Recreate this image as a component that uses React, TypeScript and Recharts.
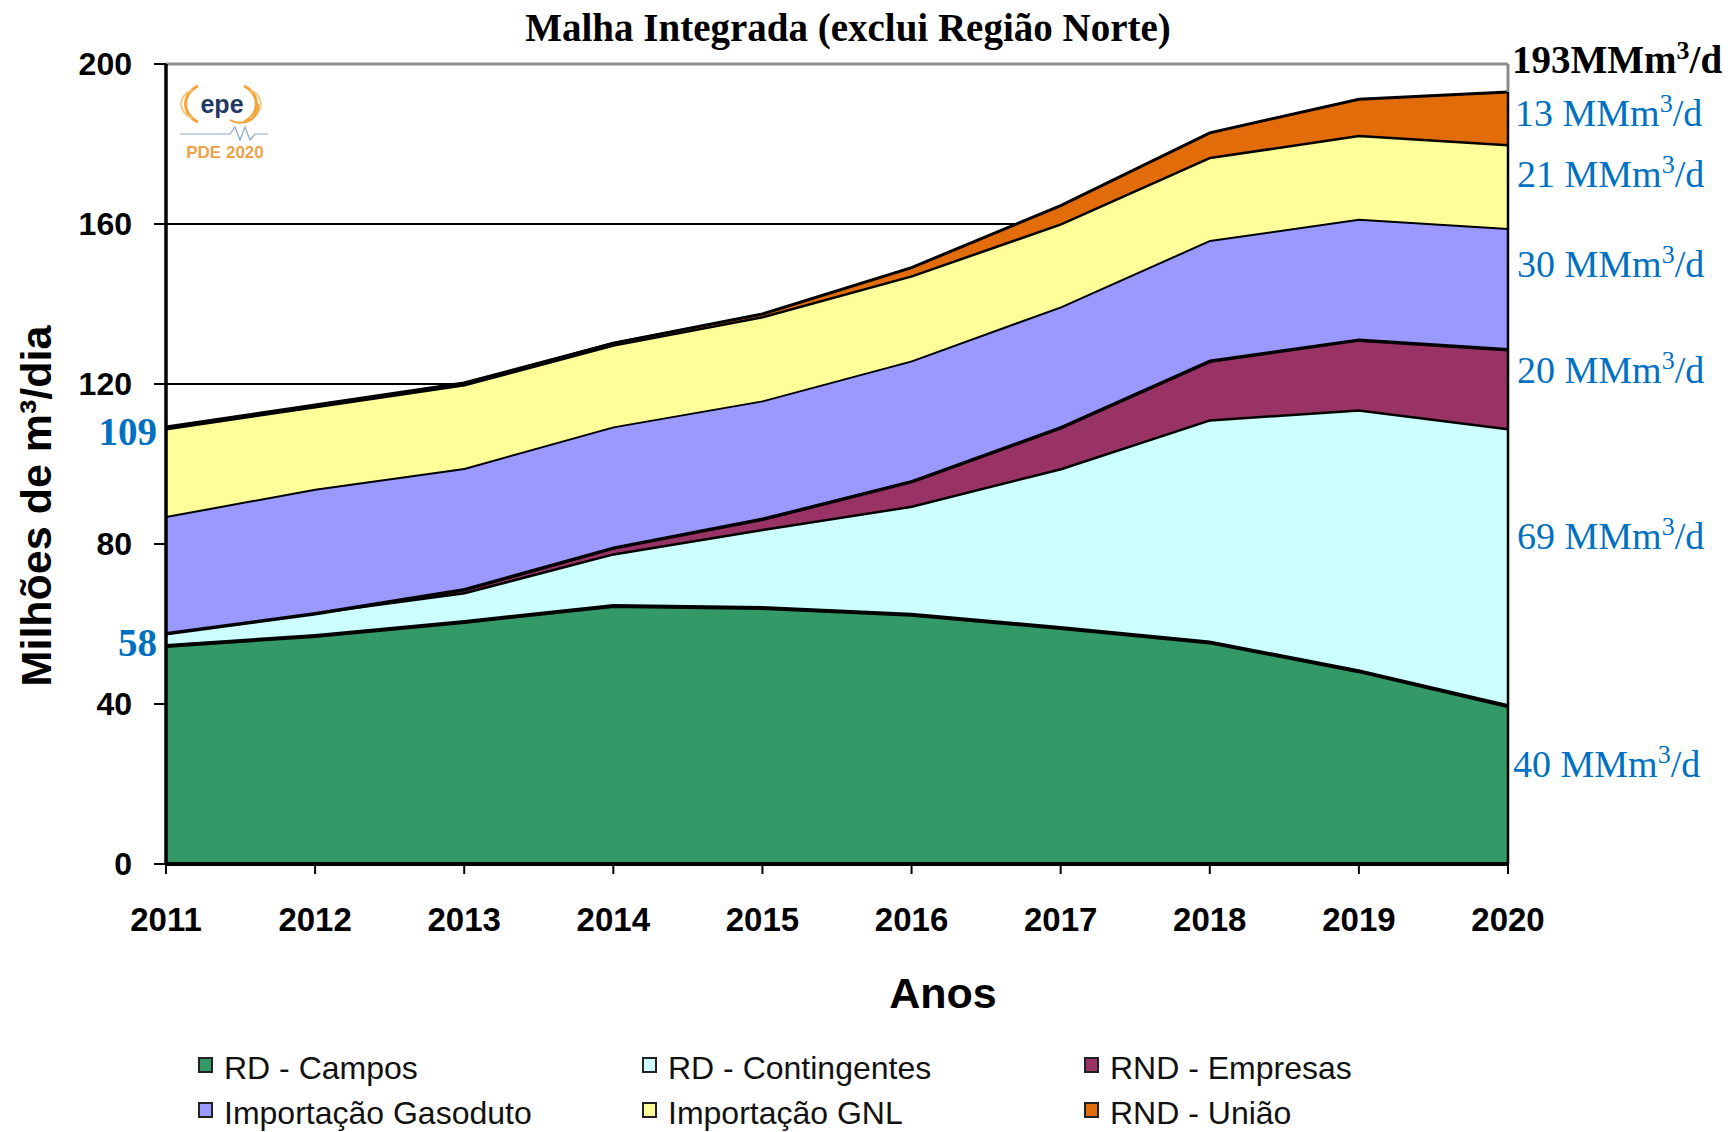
import React from 'react';
import { AreaChart, Area, XAxis, YAxis, CartesianGrid, ReferenceLine } from 'recharts';

const years = ['2011', '2012', '2013', '2014', '2015', '2016', '2017', '2018', '2019', '2020'];
const rdCampos = [55, 57.5, 61, 65, 64.5, 62.8, 59.5, 55.9, 48.7, 40];
const rdContingentes = [3, 5.5, 7, 12.7, 19.3, 26.8, 39.5, 55.3, 65, 69];
const rndEmpresas = [0, 0, 1, 1.7, 2.8, 6.4, 10.5, 14.9, 17.7, 20];
const importGasoduto = [29, 30.8, 30, 30, 29.3, 29.9, 29.9, 29.9, 29.9, 30];
const importGNL = [22, 20.7, 21, 20.5, 21.1, 21.3, 20.8, 20.8, 21, 21];
const rndUniao = [0, 0, 0, 0.3, 0.5, 1.9, 4.4, 6, 8.9, 13];
const yTicks = [0, 40, 80, 120, 160, 200];

const seriesNames = ['RD - Campos', 'RD - Contingentes', 'RND - Empresas', 'Importação Gasoduto', 'Importação GNL', 'RND - União'];
const seriesKeys = ['campos', 'contingentes', 'empresas', 'gasoduto', 'gnl', 'uniao'];
const seriesColors = ['#339966', '#CCFFFF', '#993366', '#9999FF', '#FFFF99', '#E36C0A'];
const seriesStroke = [8, 5, 7, 4, 5, 3];

const rightLabels = ['13', '21', '30', '20', '69', '40'];
const totalLabel = '193';
const leftLabels = ['109', '58'];

const data = years.map((y, i) => ({
  year: y,
  campos: rdCampos[i],
  contingentes: rdContingentes[i],
  empresas: rndEmpresas[i],
  gasoduto: importGasoduto[i],
  gnl: importGNL[i],
  uniao: rndUniao[i],
}));

const serif = '"Liberation Serif", "Times New Roman", serif';
const sans = '"Liberation Sans", Arial, sans-serif';
const blue = '#0070C0';

const Unit = ({ x, y, num, bold, color }: { x: number; y: number; num: string; bold?: boolean; color: string }) => (
  <text x={x} y={y} fontFamily={serif} fontSize={bold ? 39 : 38} fontWeight={bold ? 'bold' : 'normal'} fill={color}>
    {num}{bold ? '' : ' '}MMm
    <tspan fontSize={26} dy={-14}>3</tspan>
    <tspan dy={14}>/d</tspan>
  </text>
);

export default function App() {
  const rightY = [126, 187, 277, 383, 549, 777];
  const rightX = [1515, 1517, 1517, 1517, 1517, 1513];
  const legendCols = [199, 643, 1085];
  const legendRows = [1079, 1124];
  return (
    <div style={{ position: 'relative', width: 1733, height: 1132, background: '#fff' }}>
      <style>{'body{margin:0;background:#fff}'}</style>
      <AreaChart width={1733} height={1132} data={data} margin={{ top: 64, right: 225, bottom: 208, left: 0 }}>
        <CartesianGrid vertical={false} stroke="#000" strokeWidth={2} />
        {seriesKeys.map((k, i) => (
          <Area
            key={k}
            type="linear"
            dataKey={k}
            stackId="1"
            fill={seriesColors[i]}
            fillOpacity={1}
            stroke="#000"
            strokeWidth={seriesStroke[i]}
            isAnimationActive={false}
            dot={false}
            activeDot={false}
          />
        ))}
        <ReferenceLine y={200} stroke="#8c8c8c" strokeWidth={3} />
        <ReferenceLine segment={[{ x: '2020', y: 193 }, { x: '2020', y: 200 }]} stroke="#8c8c8c" strokeWidth={3} />
        <ReferenceLine segment={[{ x: '2020', y: 0 }, { x: '2020', y: 193 }]} stroke="#000" strokeWidth={2.5} />
        <XAxis
          dataKey="year"
          interval={0}
          height={60}
          tickSize={10}
          tickMargin={34}
          axisLine={{ stroke: '#000', strokeWidth: 4 }}
          tickLine={{ stroke: '#000', strokeWidth: 2 }}
          tick={{ fontSize: 33, fontWeight: 'bold', fill: '#000', fontFamily: sans }}
        />
        <YAxis
          width={166}
          domain={[0, 200]}
          ticks={yTicks}
          interval={0}
          tickSize={12}
          tickMargin={22}
          axisLine={{ stroke: '#000', strokeWidth: 3.5 }}
          tickLine={{ stroke: '#000', strokeWidth: 2 }}
          tick={{ fontSize: 32, fontWeight: 'bold', fill: '#000', fontFamily: sans }}
        />
      </AreaChart>
      <svg width={1733} height={1132} style={{ position: 'absolute', left: 0, top: 0, pointerEvents: 'none' }}>
        <text x={848} y={41} textAnchor="middle" fontFamily={serif} fontWeight="bold" fontSize={39} fill="#000">
          Malha Integrada (exclui Região Norte)
        </text>
        <text transform="translate(51,506) rotate(-90)" textAnchor="middle" fontFamily={sans} fontWeight="bold" fontSize={43} fill="#000">
          Milhões de m³/dia
        </text>
        <text x={943} y={1008} textAnchor="middle" fontFamily={sans} fontWeight="bold" fontSize={43} fill="#000">
          Anos
        </text>
        <Unit x={1512} y={73} num={totalLabel} bold color="#000" />
        {rightLabels.map((n, i) => (
          <Unit key={i} x={rightX[i]} y={rightY[i]} num={n} color={blue} />
        ))}
        <text x={157} y={445} textAnchor="end" fontFamily={serif} fontWeight="bold" fontSize={39} fill={blue}>{leftLabels[0]}</text>
        <text x={157} y={656} textAnchor="end" fontFamily={serif} fontWeight="bold" fontSize={39} fill={blue}>{leftLabels[1]}</text>
        {/* logo */}
        <g>
          <path d="M198 86 A22 20 0 0 0 198 122" fill="none" stroke="#F2A33A" strokeWidth={3} />
          <path d="M192 90 A17 15 0 0 0 192 118" fill="none" stroke="#F7C77E" strokeWidth={2} />
          <path d="M244 86 A22 20 0 0 1 244 122" fill="none" stroke="#F2A33A" strokeWidth={3} />
          <path d="M250 90 A17 15 0 0 1 250 118" fill="none" stroke="#F7C77E" strokeWidth={2} />
          <path d="M230 120 A18 16 0 0 0 258 104" fill="none" stroke="#F2A33A" strokeWidth={2} />
          <text x={222} y={113} textAnchor="middle" fontFamily={sans} fontWeight="bold" fontSize={25} fill="#1F3864">epe</text>
          <path d="M180 134 L230 134 L235 127 L240 140 L245 127 L250 140 L255 134 L268 134" fill="none" stroke="#8FA8C8" strokeWidth={1.2} />
          <text x={225} y={158} textAnchor="middle" fontFamily={sans} fontWeight="bold" fontSize={17} fill="#EFA24A">PDE 2020</text>
        </g>
        {/* legend */}
        {seriesNames.map((name, i) => {
          const col = legendCols[i % 3];
          const row = legendRows[Math.floor(i / 3)];
          return (
            <g key={name}>
              <rect x={col} y={row - 21} width={13} height={14} fill={seriesColors[i]} stroke="#222" strokeWidth={2} />
              <text x={col + 25} y={row} fontFamily={sans} fontSize={32} fill="#111">{name}</text>
            </g>
          );
        })}
      </svg>
    </div>
  );
}
